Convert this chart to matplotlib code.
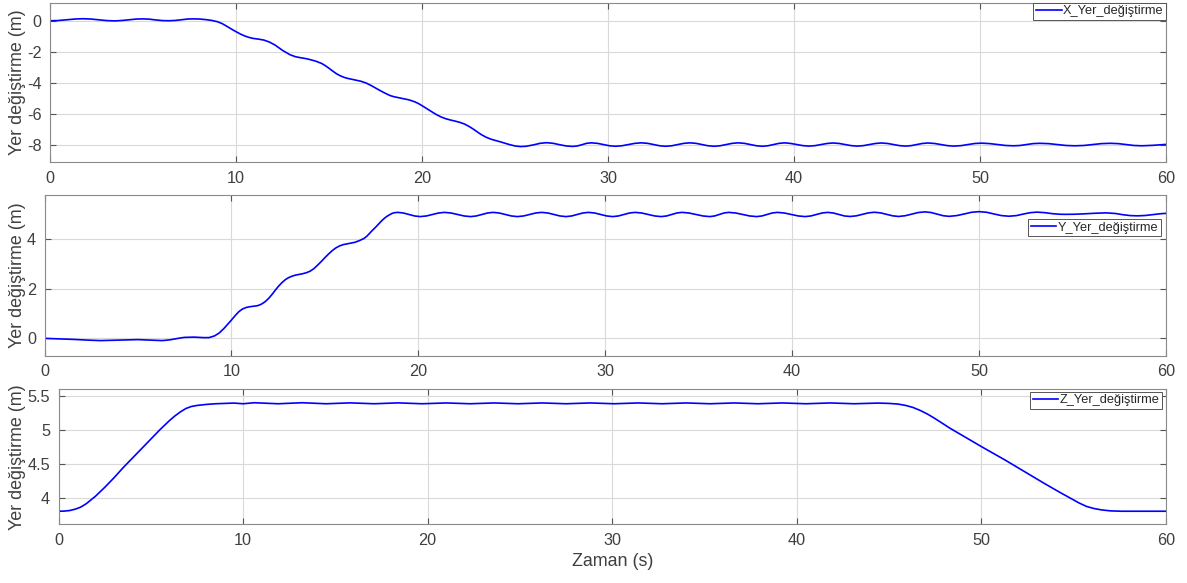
import numpy as np
import matplotlib
matplotlib.use('Agg')
import matplotlib.pyplot as plt
from matplotlib.ticker import FormatStrFormatter
from matplotlib import transforms

# X displacement (m) vs time (s)
x_t = [0.0, 0.4, 0.9, 1.35, 1.75, 2.2, 2.6, 3.05, 3.5, 3.9, 4.3, 4.65, 5.0,
       5.35, 5.7, 6.05, 6.4, 6.75, 7.1, 7.4, 7.7, 8.05, 8.4, 8.7, 9.0, 9.25,
       9.5, 9.75, 10.0, 10.25, 10.5, 10.7, 10.9, 11.2, 11.5, 11.8, 12.1, 12.5,
       12.9, 13.2, 13.5, 13.75, 14.0, 14.3, 14.6, 14.8, 15.0, 15.2, 15.4, 15.6,
       15.8, 16.0, 16.2, 16.45, 16.7, 17.0, 17.25, 17.5, 17.7, 17.9, 18.1, 18.3,
       18.5, 18.7, 19.0, 19.3, 19.6, 19.8, 20.0, 20.2, 20.4, 20.6, 20.8, 21.05,
       21.3, 21.55, 21.8, 22.05, 22.3, 22.55, 22.8, 23.0, 23.2, 23.45, 23.7,
       23.95, 24.2, 24.45, 24.7, 25.0, 25.3, 25.6, 26.0, 26.35, 26.7, 27.05,
       27.4, 27.75, 28.1, 28.35, 28.6, 28.85, 29.1, 29.43, 29.75, 30.08, 30.4,
       30.75, 31.1, 31.45, 31.8, 32.13, 32.45, 32.78, 33.1, 33.43, 33.75, 34.08,
       34.4, 34.73, 35.05, 35.38, 35.7, 36.03, 36.35, 36.68, 37.0, 37.33, 37.65,
       37.98, 38.3, 38.6, 38.9, 39.2, 39.5, 39.83, 40.15, 40.48, 40.8, 41.13,
       41.45, 41.78, 42.1, 42.43, 42.75, 43.08, 43.4, 43.73, 44.05, 44.38, 44.7,
       45.03, 45.35, 45.68, 46.0, 46.3, 46.6, 46.9, 47.2, 47.55, 47.9, 48.25,
       48.6, 48.98, 49.35, 49.73, 50.1, 50.53, 50.95, 51.38, 51.8, 52.15, 52.5,
       52.85, 53.2, 53.68, 54.15, 54.63, 55.1, 55.58, 56.05, 56.53, 57.0, 57.43,
       57.85, 58.28, 58.7, 59.3, 60.0]
x_v = [0.00, 0.01, 0.06, 0.11, 0.13, 0.11, 0.06, 0.01, -0.01, 0.02, 0.07, 0.11,
       0.12, 0.10, 0.05, 0.01, 0.00, 0.02, 0.07, 0.11, 0.12, 0.11, 0.07, 0.02,
       -0.06, -0.18, -0.35, -0.53, -0.70, -0.86, -0.99, -1.07, -1.13, -1.18,
       -1.24, -1.37, -1.56, -1.90, -2.18, -2.31, -2.38, -2.43, -2.50, -2.60,
       -2.74, -2.88, -3.05, -3.23, -3.40, -3.53, -3.63, -3.70, -3.75, -3.81,
       -3.88, -4.00, -4.15, -4.32, -4.45, -4.58, -4.70, -4.81, -4.88, -4.93,
       -5.00, -5.08, -5.20, -5.31, -5.45, -5.60, -5.75, -5.90, -6.04, -6.19,
       -6.30, -6.38, -6.45, -6.53, -6.64, -6.80, -6.99, -7.16, -7.32, -7.48,
       -7.60, -7.69, -7.77, -7.86, -7.95, -8.04, -8.08, -8.06, -7.97, -7.87,
       -7.83, -7.87, -7.96, -8.04, -8.07, -8.04, -7.96, -7.87, -7.84, -7.872,
       -7.95, -8.028, -8.06, -8.028, -7.95, -7.872, -7.84, -7.872, -7.95,
       -8.028, -8.06, -8.028, -7.95, -7.872, -7.84, -7.872, -7.95, -8.028,
       -8.06, -8.028, -7.95, -7.872, -7.84, -7.872, -7.95, -8.028, -8.06,
       -8.028, -7.95, -7.872, -7.84, -7.88, -7.95, -8.02, -8.05, -8.02, -7.95,
       -7.88, -7.85, -7.88, -7.95, -8.02, -8.05, -8.02, -7.95, -7.88, -7.85,
       -7.88, -7.95, -8.02, -8.05, -8.02, -7.95, -7.88, -7.85, -7.88, -7.95,
       -8.02, -8.05, -8.02, -7.95, -7.88, -7.86, -7.89, -7.95, -8.01, -8.03,
       -8.01, -7.95, -7.89, -7.87, -7.89, -7.95, -8.01, -8.03, -8.01, -7.95,
       -7.89, -7.87, -7.89, -7.95, -8.01, -8.03, -8.00, -7.94]

# Y displacement (m) vs time (s)
y_t = [0.0, 0.8, 1.5, 2.3, 3.0, 3.5, 4.0, 4.5, 5.0, 5.7, 6.3, 6.7, 7.0, 7.3,
       7.5, 8.0, 8.5, 8.8, 9.1, 9.35, 9.6, 9.8, 10.0, 10.2, 10.4, 10.6, 10.8,
       11.0, 11.2, 11.4, 11.6, 11.8, 12.0, 12.2, 12.35, 12.5, 12.7, 12.9, 13.05,
       13.2, 13.4, 13.6, 13.8, 14.0, 14.2, 14.4, 14.6, 14.8, 15.0, 15.2, 15.4,
       15.6, 15.8, 16.0, 16.2, 16.4, 16.6, 16.85, 17.1, 17.25, 17.4, 17.55,
       17.7, 17.85, 18.0, 18.15, 18.3, 18.45, 18.6, 18.75, 18.9, 19.2, 19.5,
       19.8, 20.1, 20.43, 20.75, 21.08, 21.4, 21.75, 22.1, 22.45, 22.8, 23.1,
       23.4, 23.7, 24.0, 24.33, 24.65, 24.98, 25.3, 25.63, 25.95, 26.28, 26.6,
       26.93, 27.25, 27.58, 27.9, 28.2, 28.5, 28.8, 29.1, 29.43, 29.75, 30.08,
       30.4, 30.7, 31.0, 31.3, 31.6, 31.95, 32.3, 32.65, 33.0, 33.28, 33.55,
       33.83, 34.1, 34.48, 34.85, 35.23, 35.6, 35.85, 36.1, 36.35, 36.6, 36.98,
       37.35, 37.73, 38.1, 38.38, 38.65, 38.93, 39.2, 39.58, 39.95, 40.33, 40.7,
       41.0, 41.3, 41.6, 41.9, 42.2, 42.5, 42.8, 43.1, 43.43, 43.75, 44.08,
       44.4, 44.73, 45.05, 45.38, 45.7, 46.05, 46.4, 46.75, 47.1, 47.43, 47.75,
       48.08, 48.4, 48.8, 49.2, 49.6, 50.0, 50.4, 50.8, 51.2, 51.6, 52.0, 52.35,
       52.75, 53.1, 53.5, 53.9, 54.3, 54.6, 55.1, 55.6, 56.2, 56.8, 57.3, 57.7,
       58.1, 58.5, 58.9, 59.3, 59.7, 60.0]
y_v = [0.00, -0.02, -0.04, -0.07, -0.09, -0.08, -0.07, -0.06, -0.05, -0.07,
       -0.09, -0.06, -0.02, 0.02, 0.04, 0.05, 0.03, 0.03, 0.10, 0.22, 0.40,
       0.57, 0.74, 0.92, 1.08, 1.19, 1.25, 1.28, 1.30, 1.32, 1.38, 1.48, 1.62,
       1.80, 1.95, 2.09, 2.25, 2.38, 2.45, 2.50, 2.55, 2.58, 2.61, 2.65, 2.71,
       2.81, 2.95, 3.10, 3.26, 3.41, 3.55, 3.66, 3.74, 3.79, 3.82, 3.85, 3.88,
       3.95, 4.04, 4.13, 4.25, 4.37, 4.48, 4.60, 4.72, 4.83, 4.92, 4.99, 5.05,
       5.08, 5.09, 5.065, 5.005, 4.945, 4.92, 4.945, 5.005, 5.065, 5.09, 5.065,
       5.005, 4.945, 4.92, 4.945, 5.005, 5.065, 5.09, 5.065, 5.005, 4.945,
       4.92, 4.945, 5.005, 5.065, 5.09, 5.065, 5.005, 4.945, 4.92, 4.945,
       5.005, 5.065, 5.09, 5.065, 5.005, 4.945, 4.92, 4.945, 5.005, 5.065,
       5.09, 5.065, 5.005, 4.945, 4.92, 4.945, 5.005, 5.065, 5.09, 5.065,
       5.005, 4.945, 4.92, 4.945, 5.005, 5.065, 5.09, 5.065, 5.005, 4.945,
       4.92, 4.945, 5.005, 5.065, 5.09, 5.065, 5.005, 4.945, 4.92, 4.945,
       5.005, 5.065, 5.09, 5.065, 5.005, 4.945, 4.925, 4.95, 5.01, 5.07,
       5.095, 5.07, 5.01, 4.95, 4.925, 4.955, 5.02, 5.085, 5.11, 5.085, 5.02,
       4.955, 4.93, 4.96, 5.025, 5.095, 5.12, 5.095, 5.025, 4.96, 4.935, 4.96,
       5.02, 5.08, 5.10, 5.08, 5.04, 5.015, 5.01, 5.015, 5.03, 5.055, 5.07,
       5.045, 4.995, 4.96, 4.95, 4.965, 5.00, 5.035, 5.05]

# Z displacement (m) vs time (s)
z_t = [0.0, 0.3, 0.6, 0.9, 1.2, 1.5, 2.0, 2.5, 3.0, 3.5, 4.0, 4.5, 5.0, 5.5,
       6.0, 6.3, 6.6, 6.9, 7.2, 7.5, 8.0, 8.5, 9.0, 9.5, 10.0, 10.6, 11.9,
       13.2, 14.5, 15.8, 17.1, 18.4, 19.7, 21.0, 22.3, 23.6, 24.9, 26.2, 27.5,
       28.8, 30.1, 31.4, 32.7, 34.0, 35.3, 36.6, 37.9, 39.2, 40.5, 41.8, 43.1,
       44.4, 45.0, 45.5, 45.9, 46.3, 46.7, 47.1, 47.5, 48.3, 50.0, 51.3, 53.4,
       54.3, 54.9, 55.3, 55.7, 56.1, 56.5, 57.0, 57.6, 60.0]
z_v = [3.81, 3.812, 3.82, 3.84, 3.87, 3.92, 4.03, 4.16, 4.30, 4.45, 4.59, 4.73,
       4.87, 5.01, 5.14, 5.21, 5.27, 5.32, 5.35, 5.365, 5.38, 5.39, 5.395, 5.40,
       5.39, 5.405, 5.39, 5.405, 5.39, 5.403, 5.39, 5.403, 5.39, 5.402, 5.39,
       5.402, 5.39, 5.402, 5.39, 5.402, 5.39, 5.402, 5.39, 5.402, 5.39, 5.402,
       5.39, 5.402, 5.39, 5.402, 5.39, 5.40, 5.395, 5.385, 5.365, 5.335, 5.29,
       5.235, 5.17, 5.03, 4.76, 4.56, 4.22, 4.08, 3.99, 3.93, 3.88, 3.85, 3.83,
       3.815, 3.81, 3.81]

labels = ['X_Yer_değiştirme', 'Y_Yer_değiştirme', 'Z_Yer_değiştirme']
ylims = [(-9.09, 1.16), (-0.70, 5.78), (3.618, 5.603)]
yticks = [[-8, -6, -4, -2, 0], [0, 2, 4], [4, 4.5, 5, 5.5]]

plt.rcParams['font.family'] = ['Liberation Sans', 'DejaVu Sans']

fig = plt.figure(figsize=(11.87, 5.83), dpi=100)
boxes = [[0.0421, 0.7216, 0.9402, 0.2738],
         [0.0375, 0.3899, 0.9448, 0.2751],
         [0.0493, 0.1007, 0.9330, 0.2316]]
leg_anchor = [(1.0, 1.0), (0.9955, 0.850), (0.9964, 0.983)]
series = [(x_t, x_v), (y_t, y_v), (z_t, z_v)]

txt = '#404040'
for i in range(3):
    ax = fig.add_axes(boxes[i])
    t, v = series[i]
    ax.plot(t, v, color='#0000ff', lw=1.2, label=labels[i])
    ax.set_xlim(0, 60)
    ax.set_ylim(*ylims[i])
    ax.set_xticks([0, 10, 20, 30, 40, 50, 60])
    ax.set_yticks(yticks[i])
    ax.yaxis.set_major_formatter(FormatStrFormatter('%g'))
    ax.grid(True, color='#d9d9d9', lw=0.8)
    ax.set_axisbelow(True)
    for s in ax.spines.values():
        s.set_color('#8a8a8a')
        s.set_linewidth(0.8)
    ax.tick_params(direction='in', top=True, right=True, length=4, width=0.8,
                   color='#555555', labelsize=11.7, labelcolor=txt, pad=6)
    ax.set_ylabel('Yer değiştirme (m)', fontsize=12.9, color=txt)
    trans = transforms.blended_transform_factory(fig.transFigure, ax.transAxes)
    ax.yaxis.set_label_coords(26 / 1187, 0.5, transform=trans)
    leg = ax.legend(loc='upper right', bbox_to_anchor=leg_anchor[i],
                    fontsize=9.2, fancybox=False, framealpha=1,
                    edgecolor='#555555', borderpad=0.2, borderaxespad=0,
                    handlelength=2.0, handletextpad=0.1)
    leg.get_frame().set_linewidth(0.7)
    for tx in leg.get_texts():
        tx.set_color('#262626')
    if i == 2:
        ax.set_xlabel('Zaman (s)', fontsize=12.9, color=txt, labelpad=4)

fig.savefig('out.png', dpi=100)
